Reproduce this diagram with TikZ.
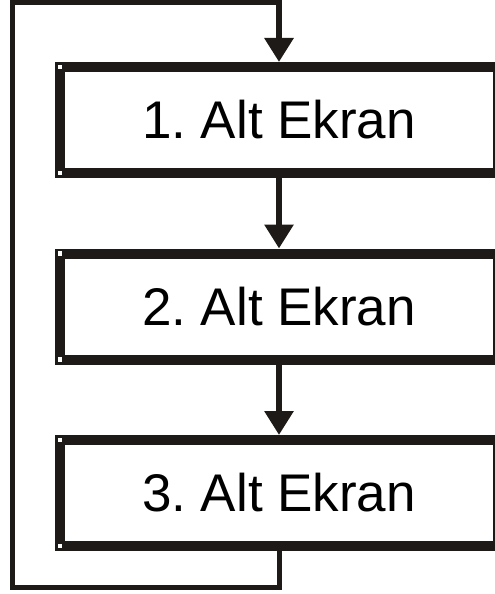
\documentclass[tikz,border=0pt]{standalone}
\usepackage{fontspec}
\setmainfont{Liberation Sans}
\usetikzlibrary{arrows.meta,positioning}
\definecolor{ink}{HTML}{1E1A18}
\frenchspacing

\tikzset{
  screenbox/.style={draw=ink,line width=10pt,fill=white,inner sep=0pt,
    minimum width=438pt,minimum height=106pt,font=\fontsize{53}{60}\selectfont},
  flow/.style={draw=ink,line width=6pt,-{Triangle[width=28pt,length=24pt]}},
  loopline/.style={draw=ink,line width=5pt,line join=miter},
  handle/.style={fill=white,inner sep=0pt,minimum size=4.5pt}
}

\begin{document}
\begin{tikzpicture}[x=1pt,y=-1pt]
  \clip (0,0) rectangle (495,594);
  \useasboundingbox (0,0) rectangle (495,594);
  \node[screenbox] (b1) at (279,120) {1. Alt Ekran};
  \node[screenbox] (b2) at (279,306.5) {2. Alt Ekran};
  \node[screenbox] (b3) at (279,493) {3. Alt Ekran};
  % corner handles
  \foreach \b in {b1,b2,b3}{
    \node[handle] at ([shift={(5pt,-5pt)}]\b.north west) {};
    \node[handle] at ([shift={(5pt,5pt)}]\b.south west) {};
  }
  \draw[flow] (b1.south) -- (b2.north);
  \draw[flow] (b2.south) -- (b3.north);
  % return path
  \coordinate (down) at (279,587.5);
  \coordinate (left) at (12.5,587.5);
  \coordinate (top) at (279,2.5);
  \draw[loopline] (b3.south) -- (down) -- (left) |- (top) -- ++(0,4);
  \draw[flow] (top) -- (b1.north);
\end{tikzpicture}
\end{document}
